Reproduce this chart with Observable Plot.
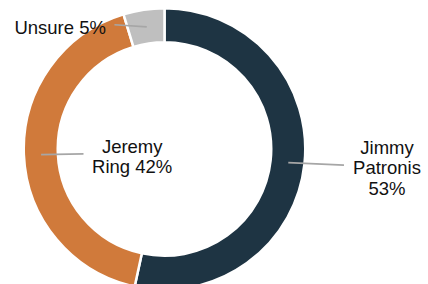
<!DOCTYPE html>
<html>
<head>
<meta charset="utf-8">
<script src="https://cdn.jsdelivr.net/npm/d3@7"></script>
<script src="https://cdn.jsdelivr.net/npm/@observablehq/plot@0.6"></script>
<style>
  html, body { margin: 0; padding: 0; background: #fff; }
</style>
</head>
<body>
<div id="chart"></div>
<script>
// ---- data ----
const candidates = ["Jimmy Patronis", "Jeremy Ring", "Unsure"];
const shares = [53.4, 41.9, 4.7];
const labelNames = ["Jimmy\nPatronis\n", "Jeremy\nRing ", "Unsure "];

// ---- styles / layout ----
const colors = ["#1e3443", "#d07a3b", "#bfbfbf"];
const CX = 164.5, CY = 149, R_OUT = 139.5, R_IN = 108, R_MID = 124;
// label offsets (px) from the mid-ring anchor of each slice
const lineEndOffset = [[55.7, 2.5], [42.4, -0.6], [-32.3, -2.1]];
const textOffset = [[98.7, 5.1], [91.1, 1.7], [-86.6, 0.7]];

const fmt = d3.format(".0f");
const table = candidates.map((c, i) => ({candidate: c, share: shares[i], color: colors[i]}));
const arcs = d3.pie().sort(null).value(d => d.share)(table);

const labelRows = arcs.map((a, i) => {
  const mid = (a.startAngle + a.endAngle) / 2;
  const ax = Math.sin(mid) * R_MID, ay = Math.cos(mid) * R_MID; // y up
  return {
    candidate: a.data.candidate,
    ax, ay,
    ex: ax + lineEndOffset[i][0], ey: ay - lineEndOffset[i][1],
    tx: ax + textOffset[i][0], ty: ay - textOffset[i][1],
    label: labelNames[i] + fmt(a.data.share) + "%"
  };
});

function donutMark(index, scales) {
  const sx = scales && scales.x, sy = scales && scales.y;
  const cx = sx ? sx(0) : CX, cy = sy ? sy(0) : CY;
  const rO = sx ? sx(R_OUT) - cx : R_OUT;
  const rI = rO * R_IN / R_OUT;
  const arc = d3.arc().innerRadius(rI - 1.25).outerRadius(rO + 1.25);
  const g = d3.create("svg:g").attr("transform", `translate(${cx},${cy})`);
  g.selectAll("path").data(arcs).join("path")
    .attr("d", arc)
    .attr("fill", d => d.data.color)
    .attr("stroke", "#fff")
    .attr("stroke-width", 2.5)
    .attr("stroke-linejoin", "miter");
  return g.node();
}

const chart = Plot.plot({
  width: 428,
  height: 284,
  margin: 0,
  style: {background: "#fff", fontFamily: "'Liberation Sans', Arial, sans-serif"},
  x: {domain: [-R_OUT, R_OUT], range: [CX - R_OUT, CX + R_OUT], axis: null},
  y: {domain: [-R_OUT, R_OUT], range: [CY + R_OUT, CY - R_OUT], axis: null},
  marks: [
    donutMark,
    Plot.link(labelRows, {x1: "ax", y1: "ay", x2: "ex", y2: "ey", stroke: "#a6a6a6", strokeWidth: 1.75}),
    Plot.text(labelRows, {x: "tx", y: "ty", text: "label", fontSize: 18.5, lineHeight: 1.11, textAnchor: "middle", fill: "#111"})
  ]
});
document.getElementById("chart").appendChild(chart);
</script>
</body>
</html>
